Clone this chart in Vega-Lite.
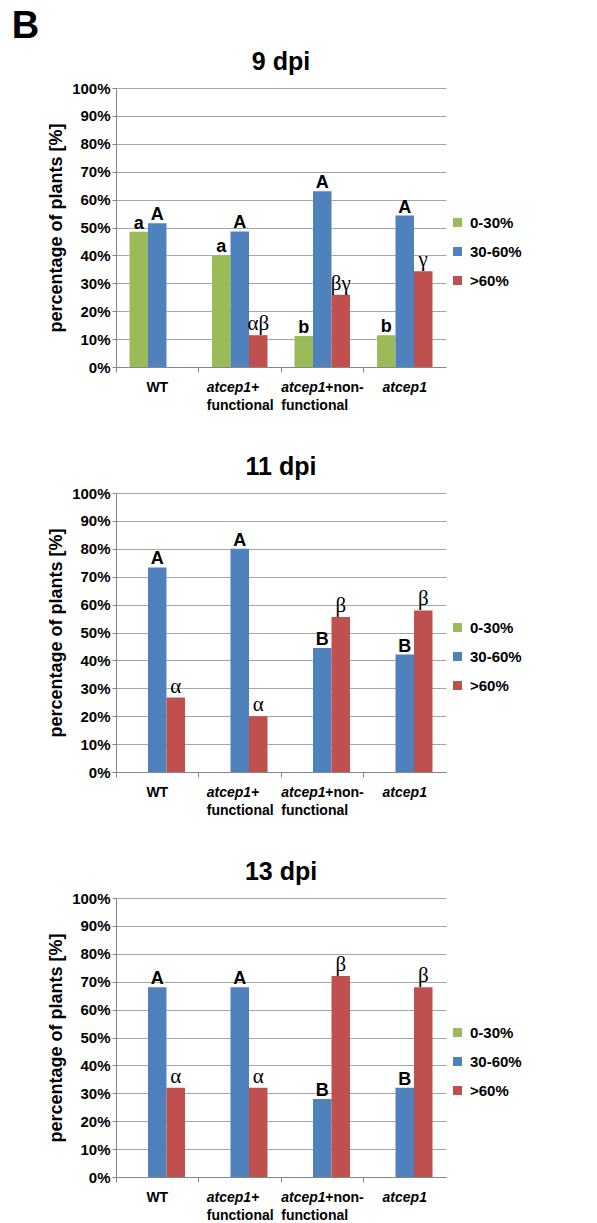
{
  "$schema": "https://vega.github.io/schema/vega-lite/v6.json",
  "padding": {"left": 11, "top": 8, "right": 5, "bottom": 2},
  "title": {"text": "B", "fontSize": 38, "anchor": "start", "dx": -36, "offset": 4},
  "datasets": {
    "bars": [
      {"dpi": "9 dpi", "group": "WT", "class": "0-30%", "value": 48.5, "sig": "a"},
      {"dpi": "9 dpi", "group": "WT", "class": "30-60%", "value": 51.5, "sig": "A"},
      {"dpi": "9 dpi", "group": "WT", "class": ">60%", "value": 0, "sig": ""},
      {"dpi": "9 dpi", "group": "atcep1+functional", "class": "0-30%", "value": 40.0, "sig": "a"},
      {"dpi": "9 dpi", "group": "atcep1+functional", "class": "30-60%", "value": 48.6, "sig": "A"},
      {"dpi": "9 dpi", "group": "atcep1+functional", "class": ">60%", "value": 11.4, "sig": "αβ"},
      {"dpi": "9 dpi", "group": "atcep1+non-functional", "class": "0-30%", "value": 11.1, "sig": "b"},
      {"dpi": "9 dpi", "group": "atcep1+non-functional", "class": "30-60%", "value": 63.0, "sig": "A"},
      {"dpi": "9 dpi", "group": "atcep1+non-functional", "class": ">60%", "value": 25.9, "sig": "βγ"},
      {"dpi": "9 dpi", "group": "atcep1", "class": "0-30%", "value": 11.4, "sig": "b"},
      {"dpi": "9 dpi", "group": "atcep1", "class": "30-60%", "value": 54.3, "sig": "A"},
      {"dpi": "9 dpi", "group": "atcep1", "class": ">60%", "value": 34.3, "sig": "γ"},
      {"dpi": "11 dpi", "group": "WT", "class": "0-30%", "value": 0, "sig": ""},
      {"dpi": "11 dpi", "group": "WT", "class": "30-60%", "value": 73.3, "sig": "A"},
      {"dpi": "11 dpi", "group": "WT", "class": ">60%", "value": 26.7, "sig": "α"},
      {"dpi": "11 dpi", "group": "atcep1+functional", "class": "0-30%", "value": 0, "sig": ""},
      {"dpi": "11 dpi", "group": "atcep1+functional", "class": "30-60%", "value": 80.0, "sig": "A"},
      {"dpi": "11 dpi", "group": "atcep1+functional", "class": ">60%", "value": 20.0, "sig": "α"},
      {"dpi": "11 dpi", "group": "atcep1+non-functional", "class": "0-30%", "value": 0, "sig": ""},
      {"dpi": "11 dpi", "group": "atcep1+non-functional", "class": "30-60%", "value": 44.4, "sig": "B"},
      {"dpi": "11 dpi", "group": "atcep1+non-functional", "class": ">60%", "value": 55.6, "sig": "β"},
      {"dpi": "11 dpi", "group": "atcep1", "class": "0-30%", "value": 0, "sig": ""},
      {"dpi": "11 dpi", "group": "atcep1", "class": "30-60%", "value": 42.1, "sig": "B"},
      {"dpi": "11 dpi", "group": "atcep1", "class": ">60%", "value": 57.9, "sig": "β"},
      {"dpi": "13 dpi", "group": "WT", "class": "0-30%", "value": 0, "sig": ""},
      {"dpi": "13 dpi", "group": "WT", "class": "30-60%", "value": 68.0, "sig": "A"},
      {"dpi": "13 dpi", "group": "WT", "class": ">60%", "value": 32.0, "sig": "α"},
      {"dpi": "13 dpi", "group": "atcep1+functional", "class": "0-30%", "value": 0, "sig": ""},
      {"dpi": "13 dpi", "group": "atcep1+functional", "class": "30-60%", "value": 68.0, "sig": "A"},
      {"dpi": "13 dpi", "group": "atcep1+functional", "class": ">60%", "value": 32.0, "sig": "α"},
      {"dpi": "13 dpi", "group": "atcep1+non-functional", "class": "0-30%", "value": 0, "sig": ""},
      {"dpi": "13 dpi", "group": "atcep1+non-functional", "class": "30-60%", "value": 28.0, "sig": "B"},
      {"dpi": "13 dpi", "group": "atcep1+non-functional", "class": ">60%", "value": 72.0, "sig": "β"},
      {"dpi": "13 dpi", "group": "atcep1", "class": "0-30%", "value": 0, "sig": ""},
      {"dpi": "13 dpi", "group": "atcep1", "class": "30-60%", "value": 32.0, "sig": "B"},
      {"dpi": "13 dpi", "group": "atcep1", "class": ">60%", "value": 68.0, "sig": "β"}
    ],
    "xlabels": [
      {"group": "WT", "piece": "wt", "text": "WT"},
      {"group": "atcep1+functional", "piece": "f1", "text": "atcep1+"},
      {"group": "atcep1+functional", "piece": "f2", "text": "functional"},
      {"group": "atcep1+non-functional", "piece": "n1", "text": "atcep1"},
      {"group": "atcep1+non-functional", "piece": "n1b", "text": "+non-"},
      {"group": "atcep1+non-functional", "piece": "n2", "text": "functional"},
      {"group": "atcep1", "piece": "a1", "text": "atcep1"}
    ]
  },
  "spacing": 126,
  "bounds": "flush",
  "resolve": {"legend": {"color": "independent"}},
  "vconcat": [
    {
      "title": {"text": "9 dpi", "frame": "group", "anchor": "middle", "offset": 6},
      "width": 330, "height": 279,
      "layer": [
        {"data": {"name": "bars"}, "transform": [{"filter": "datum.dpi == '9 dpi'"}],
         "mark": {"type": "bar"},
         "encoding": {
           "x": {"field": "group", "type": "nominal", "sort": ["WT", "atcep1+functional", "atcep1+non-functional", "atcep1"], "scale": {"paddingInner": 0, "paddingOuter": 0}, "axis": {"title": null, "labels": false, "bandPosition": 0, "tickSize": 5, "grid": false}},
           "xOffset": {"field": "class", "type": "nominal", "sort": ["0-30%", "30-60%", ">60%"], "scale": {"paddingInner": 0, "paddingOuter": 0.73}},
           "y": {"field": "value", "type": "quantitative", "scale": {"domain": [0, 100]}, "axis": {"title": "percentage of plants [%]", "values": [0, 10, 20, 30, 40, 50, 60, 70, 80, 90, 100], "labelExpr": "datum.value + '%'", "labelOverlap": false, "grid": true, "tickSize": 4, "labelPadding": 2, "titlePadding": 6}},
           "color": {"field": "class", "type": "nominal", "sort": ["0-30%", "30-60%", ">60%"], "scale": {"domain": ["0-30%", "30-60%", ">60%"], "range": ["#9BBB59", "#4F81BD", "#C0504D"]}, "legend": {"title": null, "orient": "none", "legendX": 334, "legendY": 127}}
         }},
        {"data": {"name": "bars"}, "transform": [{"filter": "datum.dpi == '9 dpi' && test(/^[A-Za-z]+$/, datum.sig)"}],
         "mark": {"type": "text", "font": "Liberation Sans", "fontWeight": "bold", "fontSize": 18, "baseline": "alphabetic", "dy": -3},
         "encoding": {
           "x": {"field": "group", "type": "nominal", "sort": ["WT", "atcep1+functional", "atcep1+non-functional", "atcep1"]},
           "xOffset": {"field": "class", "type": "nominal", "sort": ["0-30%", "30-60%", ">60%"]},
           "y": {"field": "value", "type": "quantitative", "axis": {"title": "percentage of plants [%]", "values": [0, 10, 20, 30, 40, 50, 60, 70, 80, 90, 100], "labelExpr": "datum.value + '%'", "labelOverlap": false, "grid": true, "tickSize": 4, "labelPadding": 2, "titlePadding": 6}},
           "text": {"field": "sig"}
         }},
        {"data": {"name": "bars"}, "transform": [{"filter": "datum.dpi == '9 dpi' && datum.sig != '' && !test(/^[A-Za-z]+$/, datum.sig)"}],
         "mark": {"type": "text", "font": "Liberation Serif", "fontSize": 21, "baseline": "alphabetic", "dy": -5},
         "encoding": {
           "x": {"field": "group", "type": "nominal", "sort": ["WT", "atcep1+functional", "atcep1+non-functional", "atcep1"]},
           "xOffset": {"field": "class", "type": "nominal", "sort": ["0-30%", "30-60%", ">60%"]},
           "y": {"field": "value", "type": "quantitative", "axis": {"title": "percentage of plants [%]", "values": [0, 10, 20, 30, 40, 50, 60, 70, 80, 90, 100], "labelExpr": "datum.value + '%'", "labelOverlap": false, "grid": true, "tickSize": 4, "labelPadding": 2, "titlePadding": 6}},
           "text": {"field": "sig"}
         }},
        {"data": {"name": "xlabels"}, "transform": [{"filter": "datum.piece == 'wt'"}],
         "mark": {"type": "text", "font": "Liberation Sans", "fontWeight": "bold", "fontSize": 14, "align": "center", "baseline": "alphabetic", "dy": 25},
         "encoding": {"x": {"field": "group", "type": "nominal", "sort": ["WT", "atcep1+functional", "atcep1+non-functional", "atcep1"]}, "y": {"datum": 0, "type": "quantitative", "axis": {"title": "percentage of plants [%]", "values": [0, 10, 20, 30, 40, 50, 60, 70, 80, 90, 100], "labelExpr": "datum.value + '%'", "labelOverlap": false, "grid": true, "tickSize": 4, "labelPadding": 2, "titlePadding": 6}}, "text": {"field": "text"}}},
        {"data": {"name": "xlabels"}, "transform": [{"filter": "datum.piece == 'a1'"}],
         "mark": {"type": "text", "font": "Liberation Sans", "fontWeight": "bold", "fontStyle": "italic", "fontSize": 14, "align": "center", "baseline": "alphabetic", "dy": 25},
         "encoding": {"x": {"field": "group", "type": "nominal", "sort": ["WT", "atcep1+functional", "atcep1+non-functional", "atcep1"]}, "y": {"datum": 0, "type": "quantitative", "axis": {"title": "percentage of plants [%]", "values": [0, 10, 20, 30, 40, 50, 60, 70, 80, 90, 100], "labelExpr": "datum.value + '%'", "labelOverlap": false, "grid": true, "tickSize": 4, "labelPadding": 2, "titlePadding": 6}}, "text": {"field": "text"}}},
        {"data": {"name": "xlabels"}, "transform": [{"filter": "datum.piece == 'f1'"}],
         "mark": {"type": "text", "font": "Liberation Sans", "fontWeight": "bold", "fontStyle": "italic", "fontSize": 14, "align": "left", "baseline": "alphabetic", "dx": -33, "dy": 25},
         "encoding": {"x": {"field": "group", "type": "nominal", "sort": ["WT", "atcep1+functional", "atcep1+non-functional", "atcep1"]}, "y": {"datum": 0, "type": "quantitative", "axis": {"title": "percentage of plants [%]", "values": [0, 10, 20, 30, 40, 50, 60, 70, 80, 90, 100], "labelExpr": "datum.value + '%'", "labelOverlap": false, "grid": true, "tickSize": 4, "labelPadding": 2, "titlePadding": 6}}, "text": {"field": "text"}}},
        {"data": {"name": "xlabels"}, "transform": [{"filter": "datum.piece == 'f2'"}],
         "mark": {"type": "text", "font": "Liberation Sans", "fontWeight": "bold", "fontSize": 14, "align": "left", "baseline": "alphabetic", "dx": -33, "dy": 43},
         "encoding": {"x": {"field": "group", "type": "nominal", "sort": ["WT", "atcep1+functional", "atcep1+non-functional", "atcep1"]}, "y": {"datum": 0, "type": "quantitative", "axis": {"title": "percentage of plants [%]", "values": [0, 10, 20, 30, 40, 50, 60, 70, 80, 90, 100], "labelExpr": "datum.value + '%'", "labelOverlap": false, "grid": true, "tickSize": 4, "labelPadding": 2, "titlePadding": 6}}, "text": {"field": "text"}}},
        {"data": {"name": "xlabels"}, "transform": [{"filter": "datum.piece == 'n1'"}],
         "mark": {"type": "text", "font": "Liberation Sans", "fontWeight": "bold", "fontStyle": "italic", "fontSize": 14, "align": "left", "baseline": "alphabetic", "dx": -41, "dy": 25},
         "encoding": {"x": {"field": "group", "type": "nominal", "sort": ["WT", "atcep1+functional", "atcep1+non-functional", "atcep1"]}, "y": {"datum": 0, "type": "quantitative", "axis": {"title": "percentage of plants [%]", "values": [0, 10, 20, 30, 40, 50, 60, 70, 80, 90, 100], "labelExpr": "datum.value + '%'", "labelOverlap": false, "grid": true, "tickSize": 4, "labelPadding": 2, "titlePadding": 6}}, "text": {"field": "text"}}},
        {"data": {"name": "xlabels"}, "transform": [{"filter": "datum.piece == 'n1b'"}],
         "mark": {"type": "text", "font": "Liberation Sans", "fontWeight": "bold", "fontSize": 14, "align": "left", "baseline": "alphabetic", "dx": 3, "dy": 25},
         "encoding": {"x": {"field": "group", "type": "nominal", "sort": ["WT", "atcep1+functional", "atcep1+non-functional", "atcep1"]}, "y": {"datum": 0, "type": "quantitative", "axis": {"title": "percentage of plants [%]", "values": [0, 10, 20, 30, 40, 50, 60, 70, 80, 90, 100], "labelExpr": "datum.value + '%'", "labelOverlap": false, "grid": true, "tickSize": 4, "labelPadding": 2, "titlePadding": 6}}, "text": {"field": "text"}}},
        {"data": {"name": "xlabels"}, "transform": [{"filter": "datum.piece == 'n2'"}],
         "mark": {"type": "text", "font": "Liberation Sans", "fontWeight": "bold", "fontSize": 14, "align": "left", "baseline": "alphabetic", "dx": -41, "dy": 43},
         "encoding": {"x": {"field": "group", "type": "nominal", "sort": ["WT", "atcep1+functional", "atcep1+non-functional", "atcep1"]}, "y": {"datum": 0, "type": "quantitative", "axis": {"title": "percentage of plants [%]", "values": [0, 10, 20, 30, 40, 50, 60, 70, 80, 90, 100], "labelExpr": "datum.value + '%'", "labelOverlap": false, "grid": true, "tickSize": 4, "labelPadding": 2, "titlePadding": 6}}, "text": {"field": "text"}}}
      ]
    },
    {
      "title": {"text": "11 dpi", "frame": "group", "anchor": "middle", "offset": 6},
      "width": 330, "height": 279,
      "layer": [
        {"data": {"name": "bars"}, "transform": [{"filter": "datum.dpi == '11 dpi'"}],
         "mark": {"type": "bar"},
         "encoding": {
           "x": {"field": "group", "type": "nominal", "sort": ["WT", "atcep1+functional", "atcep1+non-functional", "atcep1"], "scale": {"paddingInner": 0, "paddingOuter": 0}, "axis": {"title": null, "labels": false, "bandPosition": 0, "tickSize": 5, "grid": false}},
           "xOffset": {"field": "class", "type": "nominal", "sort": ["0-30%", "30-60%", ">60%"], "scale": {"paddingInner": 0, "paddingOuter": 0.73}},
           "y": {"field": "value", "type": "quantitative", "scale": {"domain": [0, 100]}, "axis": {"title": "percentage of plants [%]", "values": [0, 10, 20, 30, 40, 50, 60, 70, 80, 90, 100], "labelExpr": "datum.value + '%'", "labelOverlap": false, "grid": true, "tickSize": 4, "labelPadding": 2, "titlePadding": 6}},
           "color": {"field": "class", "type": "nominal", "sort": ["0-30%", "30-60%", ">60%"], "scale": {"domain": ["0-30%", "30-60%", ">60%"], "range": ["#9BBB59", "#4F81BD", "#C0504D"]}, "legend": {"title": null, "orient": "none", "legendX": 334, "legendY": 127}}
         }},
        {"data": {"name": "bars"}, "transform": [{"filter": "datum.dpi == '11 dpi' && test(/^[A-Za-z]+$/, datum.sig)"}],
         "mark": {"type": "text", "font": "Liberation Sans", "fontWeight": "bold", "fontSize": 18, "baseline": "alphabetic", "dy": -3},
         "encoding": {
           "x": {"field": "group", "type": "nominal", "sort": ["WT", "atcep1+functional", "atcep1+non-functional", "atcep1"]},
           "xOffset": {"field": "class", "type": "nominal", "sort": ["0-30%", "30-60%", ">60%"]},
           "y": {"field": "value", "type": "quantitative", "axis": {"title": "percentage of plants [%]", "values": [0, 10, 20, 30, 40, 50, 60, 70, 80, 90, 100], "labelExpr": "datum.value + '%'", "labelOverlap": false, "grid": true, "tickSize": 4, "labelPadding": 2, "titlePadding": 6}},
           "text": {"field": "sig"}
         }},
        {"data": {"name": "bars"}, "transform": [{"filter": "datum.dpi == '11 dpi' && datum.sig != '' && !test(/^[A-Za-z]+$/, datum.sig)"}],
         "mark": {"type": "text", "font": "Liberation Serif", "fontSize": 21, "baseline": "alphabetic", "dy": -5},
         "encoding": {
           "x": {"field": "group", "type": "nominal", "sort": ["WT", "atcep1+functional", "atcep1+non-functional", "atcep1"]},
           "xOffset": {"field": "class", "type": "nominal", "sort": ["0-30%", "30-60%", ">60%"]},
           "y": {"field": "value", "type": "quantitative", "axis": {"title": "percentage of plants [%]", "values": [0, 10, 20, 30, 40, 50, 60, 70, 80, 90, 100], "labelExpr": "datum.value + '%'", "labelOverlap": false, "grid": true, "tickSize": 4, "labelPadding": 2, "titlePadding": 6}},
           "text": {"field": "sig"}
         }},
        {"data": {"name": "xlabels"}, "transform": [{"filter": "datum.piece == 'wt'"}],
         "mark": {"type": "text", "font": "Liberation Sans", "fontWeight": "bold", "fontSize": 14, "align": "center", "baseline": "alphabetic", "dy": 25},
         "encoding": {"x": {"field": "group", "type": "nominal", "sort": ["WT", "atcep1+functional", "atcep1+non-functional", "atcep1"]}, "y": {"datum": 0, "type": "quantitative", "axis": {"title": "percentage of plants [%]", "values": [0, 10, 20, 30, 40, 50, 60, 70, 80, 90, 100], "labelExpr": "datum.value + '%'", "labelOverlap": false, "grid": true, "tickSize": 4, "labelPadding": 2, "titlePadding": 6}}, "text": {"field": "text"}}},
        {"data": {"name": "xlabels"}, "transform": [{"filter": "datum.piece == 'a1'"}],
         "mark": {"type": "text", "font": "Liberation Sans", "fontWeight": "bold", "fontStyle": "italic", "fontSize": 14, "align": "center", "baseline": "alphabetic", "dy": 25},
         "encoding": {"x": {"field": "group", "type": "nominal", "sort": ["WT", "atcep1+functional", "atcep1+non-functional", "atcep1"]}, "y": {"datum": 0, "type": "quantitative", "axis": {"title": "percentage of plants [%]", "values": [0, 10, 20, 30, 40, 50, 60, 70, 80, 90, 100], "labelExpr": "datum.value + '%'", "labelOverlap": false, "grid": true, "tickSize": 4, "labelPadding": 2, "titlePadding": 6}}, "text": {"field": "text"}}},
        {"data": {"name": "xlabels"}, "transform": [{"filter": "datum.piece == 'f1'"}],
         "mark": {"type": "text", "font": "Liberation Sans", "fontWeight": "bold", "fontStyle": "italic", "fontSize": 14, "align": "left", "baseline": "alphabetic", "dx": -33, "dy": 25},
         "encoding": {"x": {"field": "group", "type": "nominal", "sort": ["WT", "atcep1+functional", "atcep1+non-functional", "atcep1"]}, "y": {"datum": 0, "type": "quantitative", "axis": {"title": "percentage of plants [%]", "values": [0, 10, 20, 30, 40, 50, 60, 70, 80, 90, 100], "labelExpr": "datum.value + '%'", "labelOverlap": false, "grid": true, "tickSize": 4, "labelPadding": 2, "titlePadding": 6}}, "text": {"field": "text"}}},
        {"data": {"name": "xlabels"}, "transform": [{"filter": "datum.piece == 'f2'"}],
         "mark": {"type": "text", "font": "Liberation Sans", "fontWeight": "bold", "fontSize": 14, "align": "left", "baseline": "alphabetic", "dx": -33, "dy": 43},
         "encoding": {"x": {"field": "group", "type": "nominal", "sort": ["WT", "atcep1+functional", "atcep1+non-functional", "atcep1"]}, "y": {"datum": 0, "type": "quantitative", "axis": {"title": "percentage of plants [%]", "values": [0, 10, 20, 30, 40, 50, 60, 70, 80, 90, 100], "labelExpr": "datum.value + '%'", "labelOverlap": false, "grid": true, "tickSize": 4, "labelPadding": 2, "titlePadding": 6}}, "text": {"field": "text"}}},
        {"data": {"name": "xlabels"}, "transform": [{"filter": "datum.piece == 'n1'"}],
         "mark": {"type": "text", "font": "Liberation Sans", "fontWeight": "bold", "fontStyle": "italic", "fontSize": 14, "align": "left", "baseline": "alphabetic", "dx": -41, "dy": 25},
         "encoding": {"x": {"field": "group", "type": "nominal", "sort": ["WT", "atcep1+functional", "atcep1+non-functional", "atcep1"]}, "y": {"datum": 0, "type": "quantitative", "axis": {"title": "percentage of plants [%]", "values": [0, 10, 20, 30, 40, 50, 60, 70, 80, 90, 100], "labelExpr": "datum.value + '%'", "labelOverlap": false, "grid": true, "tickSize": 4, "labelPadding": 2, "titlePadding": 6}}, "text": {"field": "text"}}},
        {"data": {"name": "xlabels"}, "transform": [{"filter": "datum.piece == 'n1b'"}],
         "mark": {"type": "text", "font": "Liberation Sans", "fontWeight": "bold", "fontSize": 14, "align": "left", "baseline": "alphabetic", "dx": 3, "dy": 25},
         "encoding": {"x": {"field": "group", "type": "nominal", "sort": ["WT", "atcep1+functional", "atcep1+non-functional", "atcep1"]}, "y": {"datum": 0, "type": "quantitative", "axis": {"title": "percentage of plants [%]", "values": [0, 10, 20, 30, 40, 50, 60, 70, 80, 90, 100], "labelExpr": "datum.value + '%'", "labelOverlap": false, "grid": true, "tickSize": 4, "labelPadding": 2, "titlePadding": 6}}, "text": {"field": "text"}}},
        {"data": {"name": "xlabels"}, "transform": [{"filter": "datum.piece == 'n2'"}],
         "mark": {"type": "text", "font": "Liberation Sans", "fontWeight": "bold", "fontSize": 14, "align": "left", "baseline": "alphabetic", "dx": -41, "dy": 43},
         "encoding": {"x": {"field": "group", "type": "nominal", "sort": ["WT", "atcep1+functional", "atcep1+non-functional", "atcep1"]}, "y": {"datum": 0, "type": "quantitative", "axis": {"title": "percentage of plants [%]", "values": [0, 10, 20, 30, 40, 50, 60, 70, 80, 90, 100], "labelExpr": "datum.value + '%'", "labelOverlap": false, "grid": true, "tickSize": 4, "labelPadding": 2, "titlePadding": 6}}, "text": {"field": "text"}}}
      ]
    },
    {
      "title": {"text": "13 dpi", "frame": "group", "anchor": "middle", "offset": 6},
      "width": 330, "height": 279,
      "layer": [
        {"data": {"name": "bars"}, "transform": [{"filter": "datum.dpi == '13 dpi'"}],
         "mark": {"type": "bar"},
         "encoding": {
           "x": {"field": "group", "type": "nominal", "sort": ["WT", "atcep1+functional", "atcep1+non-functional", "atcep1"], "scale": {"paddingInner": 0, "paddingOuter": 0}, "axis": {"title": null, "labels": false, "bandPosition": 0, "tickSize": 5, "grid": false}},
           "xOffset": {"field": "class", "type": "nominal", "sort": ["0-30%", "30-60%", ">60%"], "scale": {"paddingInner": 0, "paddingOuter": 0.73}},
           "y": {"field": "value", "type": "quantitative", "scale": {"domain": [0, 100]}, "axis": {"title": "percentage of plants [%]", "values": [0, 10, 20, 30, 40, 50, 60, 70, 80, 90, 100], "labelExpr": "datum.value + '%'", "labelOverlap": false, "grid": true, "tickSize": 4, "labelPadding": 2, "titlePadding": 6}},
           "color": {"field": "class", "type": "nominal", "sort": ["0-30%", "30-60%", ">60%"], "scale": {"domain": ["0-30%", "30-60%", ">60%"], "range": ["#9BBB59", "#4F81BD", "#C0504D"]}, "legend": {"title": null, "orient": "none", "legendX": 334, "legendY": 127}}
         }},
        {"data": {"name": "bars"}, "transform": [{"filter": "datum.dpi == '13 dpi' && test(/^[A-Za-z]+$/, datum.sig)"}],
         "mark": {"type": "text", "font": "Liberation Sans", "fontWeight": "bold", "fontSize": 18, "baseline": "alphabetic", "dy": -3},
         "encoding": {
           "x": {"field": "group", "type": "nominal", "sort": ["WT", "atcep1+functional", "atcep1+non-functional", "atcep1"]},
           "xOffset": {"field": "class", "type": "nominal", "sort": ["0-30%", "30-60%", ">60%"]},
           "y": {"field": "value", "type": "quantitative", "axis": {"title": "percentage of plants [%]", "values": [0, 10, 20, 30, 40, 50, 60, 70, 80, 90, 100], "labelExpr": "datum.value + '%'", "labelOverlap": false, "grid": true, "tickSize": 4, "labelPadding": 2, "titlePadding": 6}},
           "text": {"field": "sig"}
         }},
        {"data": {"name": "bars"}, "transform": [{"filter": "datum.dpi == '13 dpi' && datum.sig != '' && !test(/^[A-Za-z]+$/, datum.sig)"}],
         "mark": {"type": "text", "font": "Liberation Serif", "fontSize": 21, "baseline": "alphabetic", "dy": -5},
         "encoding": {
           "x": {"field": "group", "type": "nominal", "sort": ["WT", "atcep1+functional", "atcep1+non-functional", "atcep1"]},
           "xOffset": {"field": "class", "type": "nominal", "sort": ["0-30%", "30-60%", ">60%"]},
           "y": {"field": "value", "type": "quantitative", "axis": {"title": "percentage of plants [%]", "values": [0, 10, 20, 30, 40, 50, 60, 70, 80, 90, 100], "labelExpr": "datum.value + '%'", "labelOverlap": false, "grid": true, "tickSize": 4, "labelPadding": 2, "titlePadding": 6}},
           "text": {"field": "sig"}
         }},
        {"data": {"name": "xlabels"}, "transform": [{"filter": "datum.piece == 'wt'"}],
         "mark": {"type": "text", "font": "Liberation Sans", "fontWeight": "bold", "fontSize": 14, "align": "center", "baseline": "alphabetic", "dy": 25},
         "encoding": {"x": {"field": "group", "type": "nominal", "sort": ["WT", "atcep1+functional", "atcep1+non-functional", "atcep1"]}, "y": {"datum": 0, "type": "quantitative", "axis": {"title": "percentage of plants [%]", "values": [0, 10, 20, 30, 40, 50, 60, 70, 80, 90, 100], "labelExpr": "datum.value + '%'", "labelOverlap": false, "grid": true, "tickSize": 4, "labelPadding": 2, "titlePadding": 6}}, "text": {"field": "text"}}},
        {"data": {"name": "xlabels"}, "transform": [{"filter": "datum.piece == 'a1'"}],
         "mark": {"type": "text", "font": "Liberation Sans", "fontWeight": "bold", "fontStyle": "italic", "fontSize": 14, "align": "center", "baseline": "alphabetic", "dy": 25},
         "encoding": {"x": {"field": "group", "type": "nominal", "sort": ["WT", "atcep1+functional", "atcep1+non-functional", "atcep1"]}, "y": {"datum": 0, "type": "quantitative", "axis": {"title": "percentage of plants [%]", "values": [0, 10, 20, 30, 40, 50, 60, 70, 80, 90, 100], "labelExpr": "datum.value + '%'", "labelOverlap": false, "grid": true, "tickSize": 4, "labelPadding": 2, "titlePadding": 6}}, "text": {"field": "text"}}},
        {"data": {"name": "xlabels"}, "transform": [{"filter": "datum.piece == 'f1'"}],
         "mark": {"type": "text", "font": "Liberation Sans", "fontWeight": "bold", "fontStyle": "italic", "fontSize": 14, "align": "left", "baseline": "alphabetic", "dx": -33, "dy": 25},
         "encoding": {"x": {"field": "group", "type": "nominal", "sort": ["WT", "atcep1+functional", "atcep1+non-functional", "atcep1"]}, "y": {"datum": 0, "type": "quantitative", "axis": {"title": "percentage of plants [%]", "values": [0, 10, 20, 30, 40, 50, 60, 70, 80, 90, 100], "labelExpr": "datum.value + '%'", "labelOverlap": false, "grid": true, "tickSize": 4, "labelPadding": 2, "titlePadding": 6}}, "text": {"field": "text"}}},
        {"data": {"name": "xlabels"}, "transform": [{"filter": "datum.piece == 'f2'"}],
         "mark": {"type": "text", "font": "Liberation Sans", "fontWeight": "bold", "fontSize": 14, "align": "left", "baseline": "alphabetic", "dx": -33, "dy": 43},
         "encoding": {"x": {"field": "group", "type": "nominal", "sort": ["WT", "atcep1+functional", "atcep1+non-functional", "atcep1"]}, "y": {"datum": 0, "type": "quantitative", "axis": {"title": "percentage of plants [%]", "values": [0, 10, 20, 30, 40, 50, 60, 70, 80, 90, 100], "labelExpr": "datum.value + '%'", "labelOverlap": false, "grid": true, "tickSize": 4, "labelPadding": 2, "titlePadding": 6}}, "text": {"field": "text"}}},
        {"data": {"name": "xlabels"}, "transform": [{"filter": "datum.piece == 'n1'"}],
         "mark": {"type": "text", "font": "Liberation Sans", "fontWeight": "bold", "fontStyle": "italic", "fontSize": 14, "align": "left", "baseline": "alphabetic", "dx": -41, "dy": 25},
         "encoding": {"x": {"field": "group", "type": "nominal", "sort": ["WT", "atcep1+functional", "atcep1+non-functional", "atcep1"]}, "y": {"datum": 0, "type": "quantitative", "axis": {"title": "percentage of plants [%]", "values": [0, 10, 20, 30, 40, 50, 60, 70, 80, 90, 100], "labelExpr": "datum.value + '%'", "labelOverlap": false, "grid": true, "tickSize": 4, "labelPadding": 2, "titlePadding": 6}}, "text": {"field": "text"}}},
        {"data": {"name": "xlabels"}, "transform": [{"filter": "datum.piece == 'n1b'"}],
         "mark": {"type": "text", "font": "Liberation Sans", "fontWeight": "bold", "fontSize": 14, "align": "left", "baseline": "alphabetic", "dx": 3, "dy": 25},
         "encoding": {"x": {"field": "group", "type": "nominal", "sort": ["WT", "atcep1+functional", "atcep1+non-functional", "atcep1"]}, "y": {"datum": 0, "type": "quantitative", "axis": {"title": "percentage of plants [%]", "values": [0, 10, 20, 30, 40, 50, 60, 70, 80, 90, 100], "labelExpr": "datum.value + '%'", "labelOverlap": false, "grid": true, "tickSize": 4, "labelPadding": 2, "titlePadding": 6}}, "text": {"field": "text"}}},
        {"data": {"name": "xlabels"}, "transform": [{"filter": "datum.piece == 'n2'"}],
         "mark": {"type": "text", "font": "Liberation Sans", "fontWeight": "bold", "fontSize": 14, "align": "left", "baseline": "alphabetic", "dx": -41, "dy": 43},
         "encoding": {"x": {"field": "group", "type": "nominal", "sort": ["WT", "atcep1+functional", "atcep1+non-functional", "atcep1"]}, "y": {"datum": 0, "type": "quantitative", "axis": {"title": "percentage of plants [%]", "values": [0, 10, 20, 30, 40, 50, 60, 70, 80, 90, 100], "labelExpr": "datum.value + '%'", "labelOverlap": false, "grid": true, "tickSize": 4, "labelPadding": 2, "titlePadding": 6}}, "text": {"field": "text"}}}
      ]
    }
  ],
  "config": {
    "view": {"stroke": null},
    "font": "Liberation Sans",
    "axis": {"labelFont": "Liberation Sans", "labelFontWeight": "bold", "labelFontSize": 15, "labelColor": "#000000", "titleFont": "Liberation Sans", "titleFontWeight": "bold", "titleFontSize": 18, "titleColor": "#000000", "domainColor": "#868686", "tickColor": "#868686", "gridColor": "#a6a6a6"},
    "title": {"font": "Liberation Sans", "fontSize": 25, "fontWeight": "bold", "color": "#000000"},
    "legend": {"symbolType": "square", "symbolSize": 81, "symbolStrokeWidth": 0, "labelFont": "Liberation Sans", "labelFontWeight": "bold", "labelFontSize": 15, "labelColor": "#000000", "rowPadding": 13, "labelOffset": 5, "padding": 0}
  }
}
